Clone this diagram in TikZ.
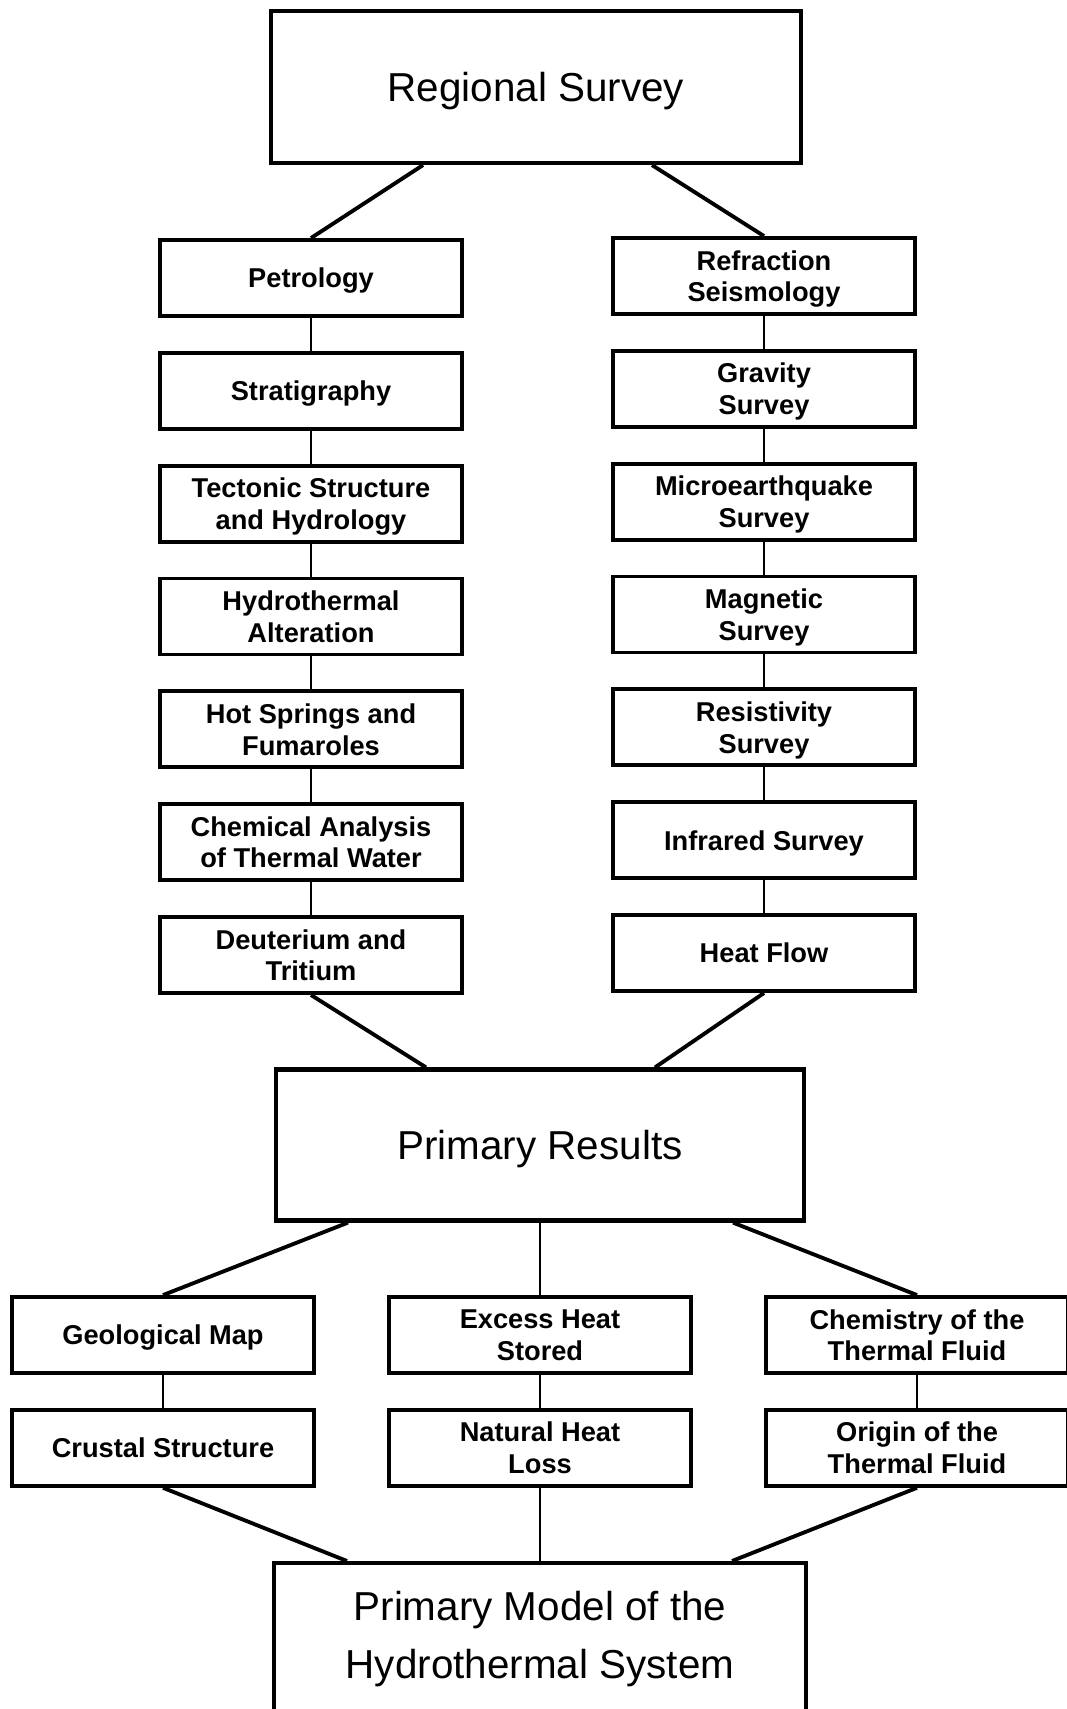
\documentclass[tikz,border=0pt]{standalone}
\usepackage{fontspec}
\setmainfont{Liberation Sans}
\usepackage{tikz}
\usetikzlibrary{positioning,calc}

\begin{document}
\begin{tikzpicture}[
    x=0.02cm, y=-0.02cm,
    node distance=0.66cm and 1cm,
    box/.style={draw, line width=2.2pt, minimum width=6.04cm, minimum height=1.52cm, align=center, inner sep=2pt, text depth=0pt, font=\fontsize{15.5}{18}\selectfont\bfseries},
    bigtext/.style={align=center, font=\fontsize{23}{33.5}\selectfont},
    bigbox/.style={draw, line width=2.4pt, minimum width=10.6cm, minimum height=3.04cm, text depth=0pt, bigtext},
    link/.style={line width=2.2pt},
    stem/.style={line width=1.6pt}
]
\useasboundingbox (0,0) rectangle (1067,1709);

\node[bigbox] (regional) at (536,87) {Regional Survey};

\node[box] (petro) at (311,278) {Petrology};
\node[box, below=of petro] (strat) {Stratigraphy};
\node[box, below=of strat] (tecton) {Tectonic Structure\\and Hydrology};
\node[box, below=of tecton] (alter) {Hydrothermal\\Alteration};
\node[box, below=of alter] (springs) {Hot Springs and\\Fumaroles};
\node[box, below=of springs] (chemwater) {Chemical Analysis\\of Thermal Water};
\node[box, below=of chemwater] (deut) {Deuterium and\\Tritium};

\node[box] (refrac) at (764,276) {Refraction\\Seismology};
\node[box, below=of refrac] (gravity) {Gravity\\Survey};
\node[box, below=of gravity] (micro) {Microearthquake\\Survey};
\node[box, below=of micro] (magnetic) {Magnetic\\Survey};
\node[box, below=of magnetic] (resist) {Resistivity\\Survey};
\node[box, below=of resist] (infrared) {Infrared Survey};
\node[box, below=of infrared] (heatflow) {Heat Flow};

\node[bigbox, minimum width=10.56cm, minimum height=3.02cm] (results) at (540,1145) {Primary Results};

\node[box] (geomap) at (163,1335) {Geological Map};
\node[box, below=of geomap] (crustal) {Crustal Structure};
\node[box] (excess) at (540,1335) {Excess Heat\\Stored};
\node[box, below=of excess] (natural) {Natural Heat\\Loss};
\node[box] (chemfluid) at (917,1335) {Chemistry of the\\Thermal Fluid};
\node[box, below=of chemfluid] (origin) {Origin of the\\Thermal Fluid};

\node[bigbox, anchor=north, minimum width=10.64cm, minimum height=3.6cm] (model) at (540,1561) {};
\node[bigtext] (modeltext) at (540,1639) {Primary Model of the\\Hydrothermal System};

\draw[link] ($(regional.south)+(-113,0)$) -- (petro.north);
\draw[link] ($(regional.south)+(116,0)$) -- (refrac.north);
\foreach \a/\b in {petro/strat, strat/tecton, tecton/alter, alter/springs, springs/chemwater, chemwater/deut,
                   refrac/gravity, gravity/micro, micro/magnetic, magnetic/resist, resist/infrared, infrared/heatflow,
                   geomap/crustal, excess/natural, chemfluid/origin}
  \draw[stem] (\a) -- (\b);
\draw[link] (deut.south) -- ($(results.north)+(-114,0)$);
\draw[link] (heatflow.south) -- ($(results.north)+(115,0)$);
\draw[link] ($(results.south)+(-192,0)$) -- (geomap.north);
\draw[stem] (results) -- (excess);
\draw[link] ($(results.south)+(193,0)$) -- (chemfluid.north);
\draw[link] (crustal.south) -- ($(model.north)+(-193,0)$);
\draw[stem] (natural) -- (model);
\draw[link] (origin.south) -- ($(model.north)+(192,0)$);
\end{tikzpicture}
\end{document}
